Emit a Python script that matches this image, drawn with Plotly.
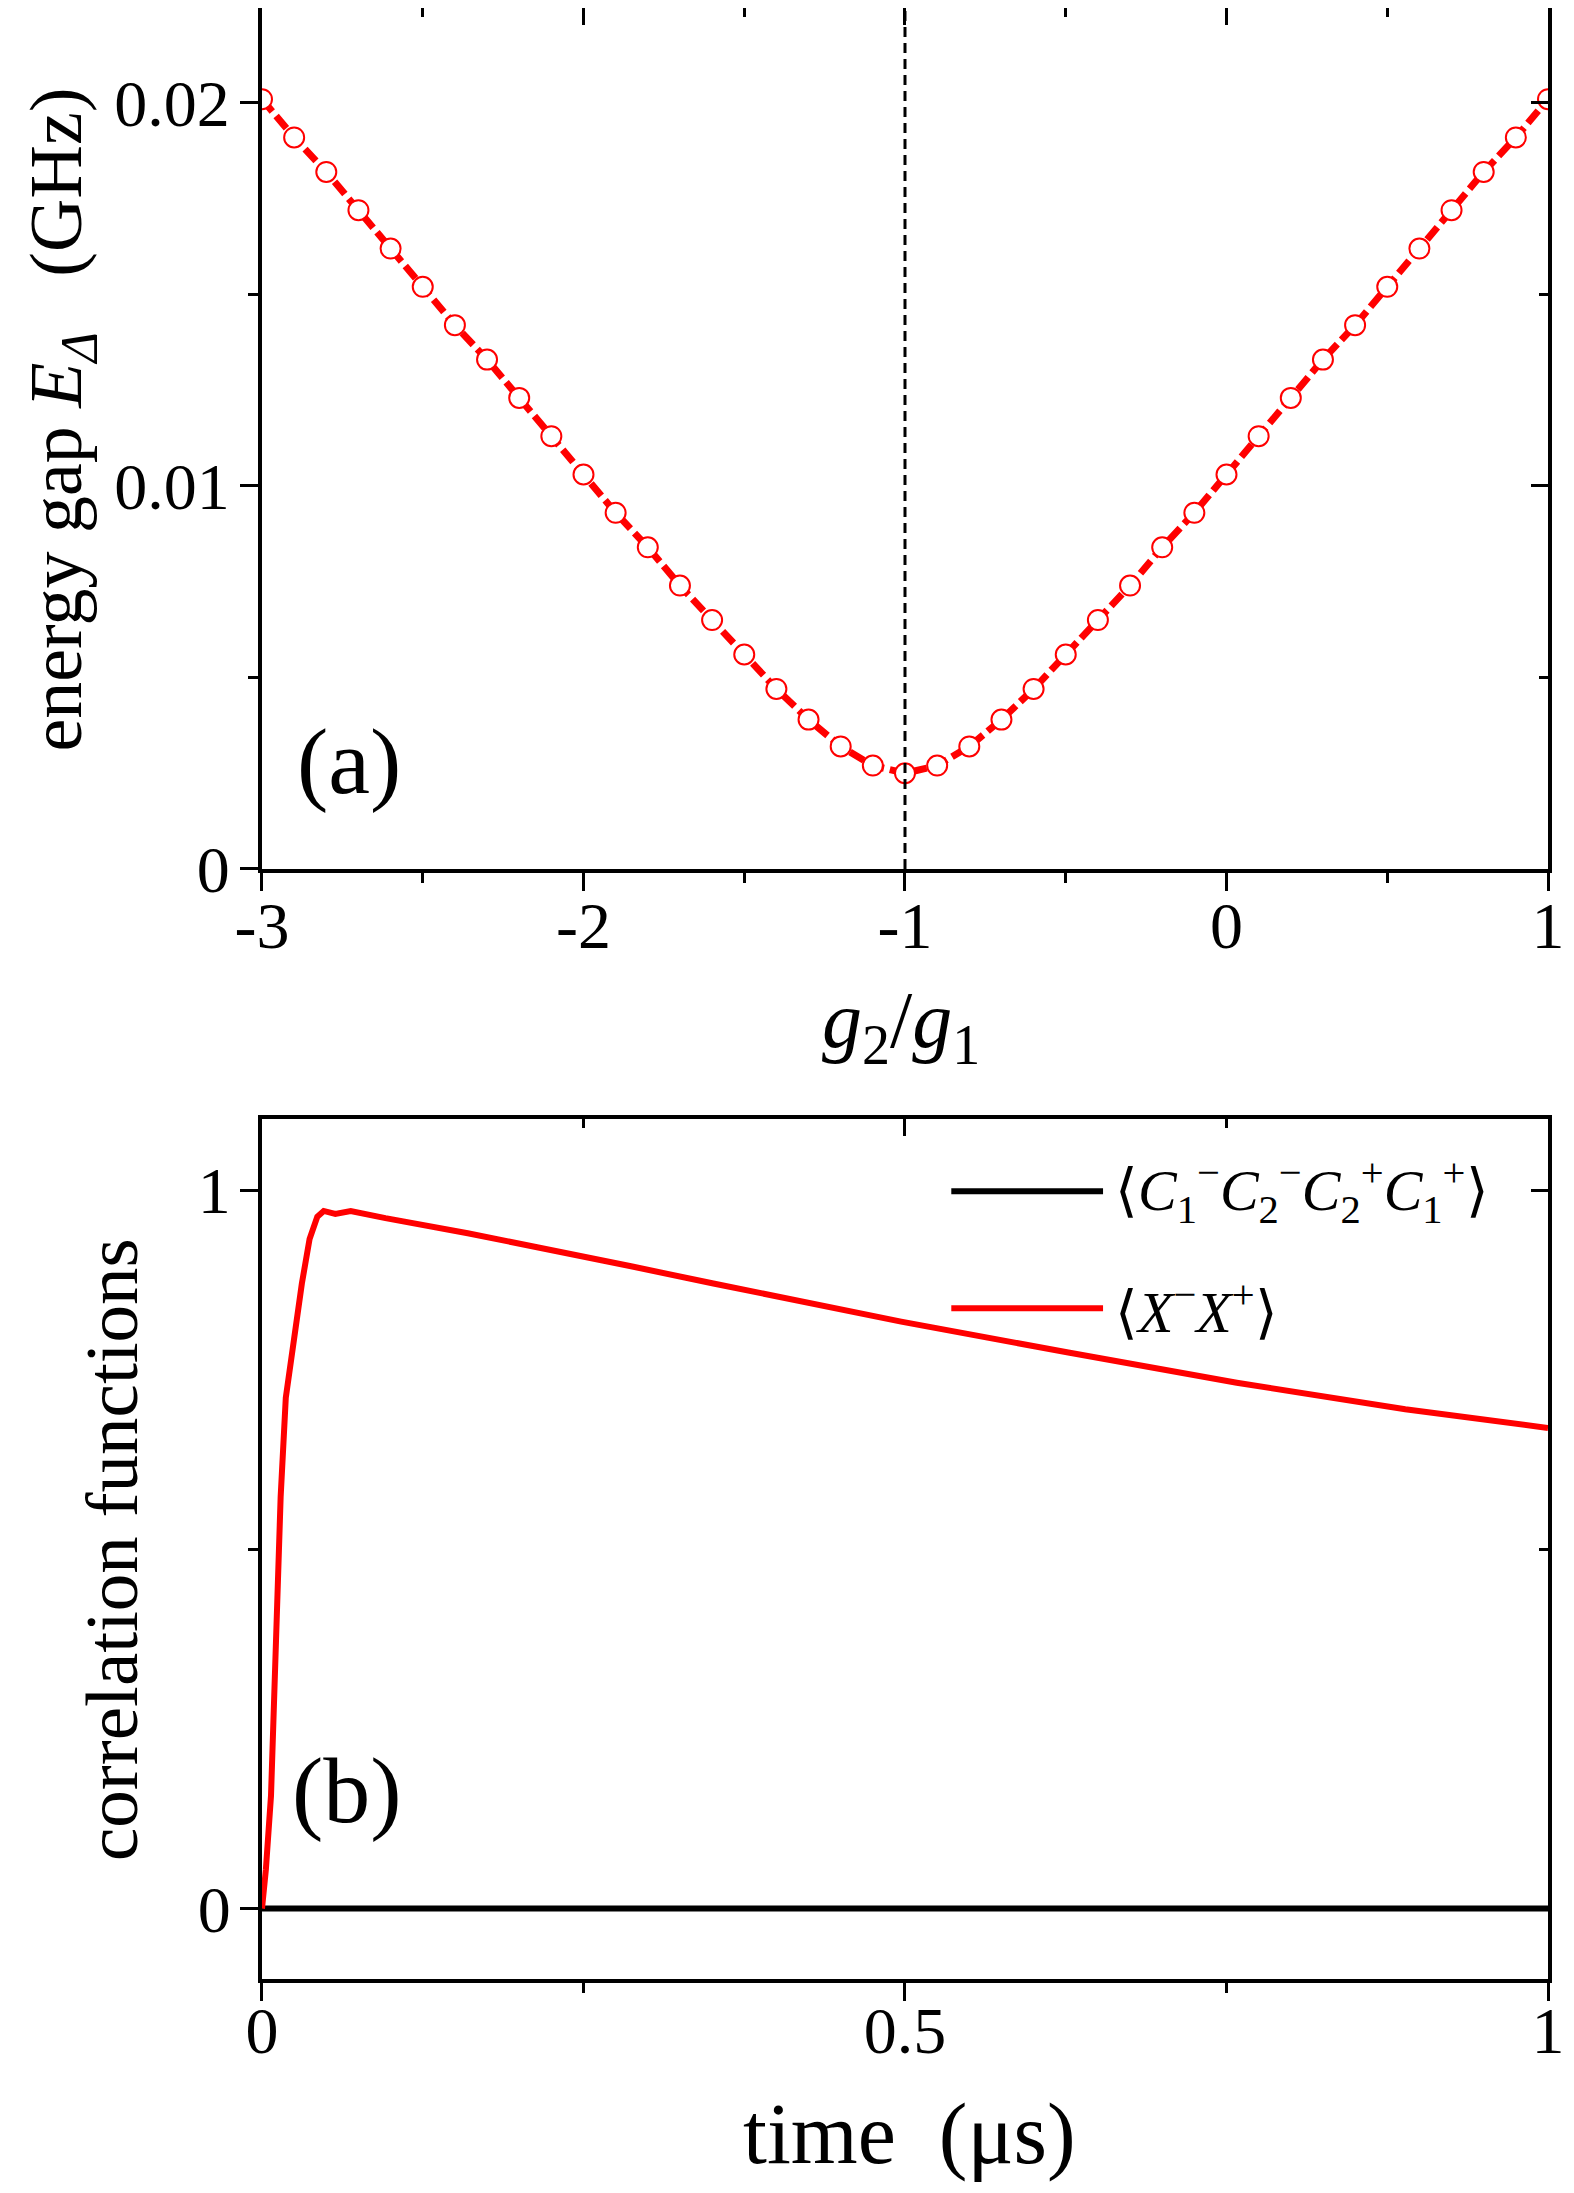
import plotly.graph_objects as go

# panel (a): energy gap vs coupling ratio
ratio = [-3.0, -2.9, -2.8, -2.7, -2.6, -2.5, -2.4, -2.3, -2.2, -2.1, -2.0,
         -1.9, -1.8, -1.7, -1.6, -1.5, -1.4, -1.3, -1.2, -1.1, -1.0,
         -0.9, -0.8, -0.7, -0.6, -0.5, -0.4, -0.3, -0.2, -0.1, 0.0,
         0.1, 0.2, 0.3, 0.4, 0.5, 0.6, 0.7, 0.8, 0.9, 1.0]
gap = [0.0201, 0.0191, 0.0182, 0.0172, 0.0162, 0.0152, 0.0142, 0.0133, 0.0123, 0.0113, 0.0103,
       0.0093, 0.0084, 0.0074, 0.0065, 0.0056, 0.0047, 0.0039, 0.0032, 0.0027, 0.0025,
       0.0027, 0.0032, 0.0039, 0.0047, 0.0056, 0.0065, 0.0074, 0.0084, 0.0093, 0.0103,
       0.0113, 0.0123, 0.0133, 0.0142, 0.0152, 0.0162, 0.0172, 0.0182, 0.0191, 0.0201]
critical_ratio = -1.0

# panel (b): correlation functions vs time (us)
t_x = [0, 0.003, 0.007, 0.0095, 0.012, 0.0145, 0.0185, 0.025, 0.031, 0.037, 0.043,
       0.048, 0.057, 0.069, 0.096, 0.160, 0.223, 0.287, 0.351, 0.415, 0.497,
       0.627, 0.758, 0.889, 1.0]
xx_corr = [0, 0.054, 0.157, 0.296, 0.434, 0.573, 0.711, 0.795, 0.870, 0.932, 0.963,
           0.971, 0.967, 0.971, 0.961, 0.940, 0.918, 0.894, 0.870, 0.847, 0.817,
           0.774, 0.732, 0.695, 0.669]
t_c = [0, 1.0]
cc_corr = [0, 0]

a_xticks, a_xlabels = [-3, -2, -1, 0, 1], ["-3", "-2", "-1", "0", "1"]
a_yticks, a_ylabels = [0, 0.01, 0.02], ["0", "0.01", "0.02"]
b_xticks, b_xlabels = [0, 0.5, 1], ["0", "0.5", "1"]
b_yticks, b_ylabels = [0, 1], ["0", "1"]

legend_names = ["⟨<i>C</i><sub>1</sub><sup>−</sup><i>C</i><sub>2</sub><sup>−</sup>"
                "<i>C</i><sub>2</sub><sup>+</sup><i>C</i><sub>1</sub><sup>+</sup>⟩",
                "⟨<i>X</i><sup>−</sup><i>X</i><sup>+</sup>⟩"]

FONT = "Liberation Serif"
RED = "#ff0000"
XDOM = [0.16137, 0.9784]
A_DOM = [0.60739, 1.0]
B_DOM = [0.10123, 0.49339]
A_YRANGE = [0, 0.02248]
B_YRANGE = [-0.098, 1.099]

fig = go.Figure()

fig.add_trace(go.Scatter(
    x=ratio, y=gap, mode="lines+markers", xaxis="x", yaxis="y",
    line=dict(color=RED, width=7, dash="16px,6px"),
    marker=dict(symbol="circle", size=20, color="white", line=dict(color=RED, width=2)),
    showlegend=False))
fig.add_trace(go.Scatter(
    x=[critical_ratio, critical_ratio], y=A_YRANGE, mode="lines", xaxis="x", yaxis="y",
    line=dict(color="black", width=3, dash="10px,6px"), showlegend=False))

fig.add_trace(go.Scatter(x=t_c, y=cc_corr, mode="lines", xaxis="x2", yaxis="y2",
                         line=dict(color="black", width=6), showlegend=False))
fig.add_trace(go.Scatter(x=t_x, y=xx_corr, mode="lines", xaxis="x2", yaxis="y2",
                         line=dict(color=RED, width=6), showlegend=False))

# empty traces so the mirrored (inside-tick) axes get drawn
for xa, ya in [("x3", "y"), ("x", "y3"), ("x4", "y2"), ("x2", "y4")]:
    fig.add_trace(go.Scatter(x=[], y=[], xaxis=xa, yaxis=ya, showlegend=False, hoverinfo="skip"))

tickfont = dict(family=FONT, size=66, color="black")


def ax(**kw):
    base = dict(showline=True, linecolor="black", linewidth=4, showgrid=False,
                zeroline=False, tickcolor="black", tickwidth=3, tickfont=tickfont,
                automargin=False)
    base.update(kw)
    return base


fig.update_layout(
    width=1574, height=2193, autosize=False,
    margin=dict(l=0, r=0, t=0, b=0),
    paper_bgcolor="white", plot_bgcolor="white",
    xaxis=ax(domain=XDOM, anchor="y", range=[-3, 1], ticks="outside", ticklen=18,
             tickmode="array", tickvals=a_xticks, ticktext=a_xlabels, ticklabelstandoff=-22,
             minor=dict(dtick=0.5, ticks="outside", ticklen=10, tickwidth=3, tickcolor="black")),
    yaxis=ax(domain=A_DOM, anchor="x", range=A_YRANGE, ticks="outside", ticklen=18,
             tickmode="array", tickvals=a_yticks, ticktext=a_ylabels, ticklabelstandoff=-3,
             minor=dict(dtick=0.005, ticks="outside", ticklen=10, tickwidth=3, tickcolor="black")),
    xaxis3=ax(overlaying="x", side="top", anchor="y", range=[-3, 1], ticks="inside", ticklen=17,
              tickmode="array", tickvals=a_xticks, showticklabels=False,
              minor=dict(dtick=0.5, ticks="inside", ticklen=9, tickwidth=3, tickcolor="black")),
    yaxis3=ax(overlaying="y", side="right", anchor="x", range=A_YRANGE, ticks="inside", ticklen=17,
              tickmode="array", tickvals=a_yticks, showticklabels=False,
              minor=dict(dtick=0.005, ticks="inside", ticklen=9, tickwidth=3, tickcolor="black")),
    xaxis2=ax(domain=XDOM, anchor="y2", range=[0, 1], ticks="outside", ticklen=18,
              tickmode="array", tickvals=b_xticks, ticktext=b_xlabels, ticklabelstandoff=-27,
              minor=dict(dtick=0.25, ticks="outside", ticklen=10, tickwidth=3, tickcolor="black")),
    yaxis2=ax(domain=B_DOM, anchor="x2", range=B_YRANGE, ticks="outside", ticklen=18,
              tickmode="array", tickvals=b_yticks, ticktext=b_ylabels, ticklabelstandoff=-4,
              minor=dict(dtick=0.5, ticks="outside", ticklen=10, tickwidth=3, tickcolor="black")),
    xaxis4=ax(overlaying="x2", side="top", anchor="y2", range=[0, 1], ticks="inside", ticklen=17,
              tickmode="array", tickvals=b_xticks, showticklabels=False,
              minor=dict(dtick=0.25, ticks="inside", ticklen=9, tickwidth=3, tickcolor="black")),
    yaxis4=ax(overlaying="y2", side="right", anchor="x2", range=B_YRANGE, ticks="inside", ticklen=17,
              tickmode="array", tickvals=b_yticks, showticklabels=False,
              minor=dict(dtick=0.5, ticks="inside", ticklen=9, tickwidth=3, tickcolor="black")),
)

annotations = [
    dict(text="<i>g</i><sub>2</sub>/<i>g</i><sub>1</sub>", x=0.5675, y=0.5358, size=80),
    dict(text="time  (μs)", x=0.5725, y=0.0306, size=86),
    dict(text="energy gap <i>E</i><sub><i>Δ</i></sub>   (GHz)", x=0.034, y=0.8121, size=74, angle=-90),
    dict(text="correlation functions", x=0.0654, y=0.2973, size=75, angle=-90),
]
for a in annotations:
    fig.add_annotation(text=a["text"], x=a["x"], y=a["y"], xref="paper", yref="paper",
                       showarrow=False, textangle=a.get("angle", 0),
                       xanchor="center", yanchor="middle",
                       font=dict(family=FONT, size=a["size"], color="black"))

fig.add_annotation(text="(a)", x=0.068, y=0.126, xref="x domain", yref="y domain",
                   xanchor="center", yanchor="middle", showarrow=False,
                   font=dict(family=FONT, size=94, color="black"))
fig.add_annotation(text="(b)", x=0.066, y=0.22, xref="x2 domain", yref="y2 domain",
                   xanchor="center", yanchor="middle", showarrow=False,
                   font=dict(family=FONT, size=94, color="black"))

# hand-drawn legend for panel (b)
for name, color, yy in zip(legend_names, ["black", RED], [0.916, 0.780]):
    fig.add_shape(type="line", xref="x2 domain", yref="y2 domain",
                  x0=0.536, x1=0.654, y0=yy, y1=yy, line=dict(color=color, width=6))
    fig.add_annotation(text=name, x=0.662, y=yy, xref="x2 domain", yref="y2 domain",
                       xanchor="left", yanchor="middle", showarrow=False,
                       font=dict(family=FONT, size=58, color="black"))

fig.write_html("out.html")
